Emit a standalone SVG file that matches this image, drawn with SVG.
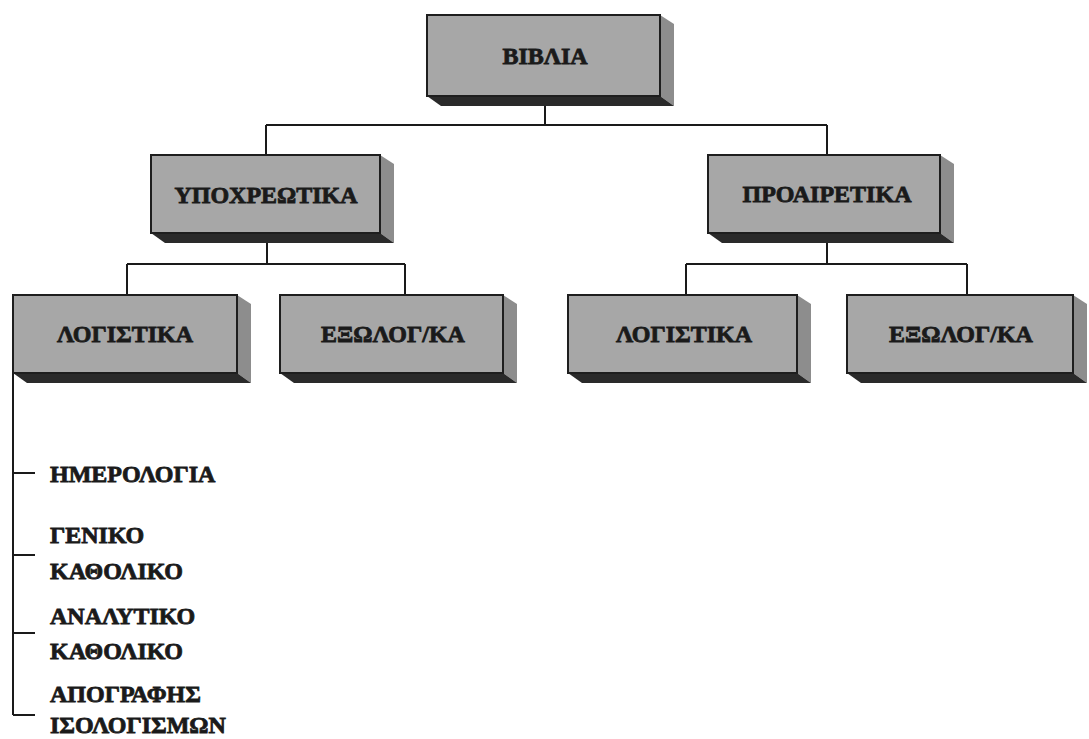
<svg xmlns="http://www.w3.org/2000/svg" width="1089" height="739" viewBox="0 0 1089 739">
<style>
.front{fill:#a7a7a7;stroke:#1e1e1e;stroke-width:2}
.side{fill:#8d8d8d;stroke:none}
.bottom{fill:#2a2a2a;stroke:none}
.lbl{font-family:"Liberation Serif","DejaVu Serif",serif;font-weight:bold;font-size:24px;fill:#1a1a1a;stroke:#1a1a1a;stroke-width:0.8}
.box .lbl{text-anchor:middle}
.conn{fill:none;stroke:#1a1a1a;stroke-width:2}
</style>
<rect width="1089" height="739" fill="#ffffff"/>
<g id="connectors">
<path class="conn" d="M545,106 V125 M266,125 H827 M266,125 V155 M827,125 V155"/>
<path class="conn" d="M267,243 V264 M127,264 H405 M127,264 V295 M405,264 V295"/>
<path class="conn" d="M827,243 V264 M686,264 H967 M686,264 V295 M967,264 V295"/>
<path class="conn" d="M13,373 V715 M13,473 H35 M13,555 H35 M13,633 H35 M13,715 H35"/>
</g>
<g id="n-biblia" class="box">
<polygon class="side" points="660,15 674,24 674,106 660,96"/>
<polygon class="bottom" points="427,96 660,96 674,106 441,106"/>
<rect class="front" x="427" y="15" width="233" height="81"/>
<text class="lbl" x="545" y="64">ΒΙΒΛΙΑ</text>
</g>
<g id="n-ypoxreotika" class="box">
<polygon class="side" points="380,155 394,164 394,243 380,233"/>
<polygon class="bottom" points="151,233 380,233 394,243 165,243"/>
<rect class="front" x="151" y="155" width="229" height="78"/>
<text class="lbl" x="266" y="203">ΥΠΟΧΡΕΩΤΙΚΑ</text>
</g>
<g id="n-proairetika" class="box">
<polygon class="side" points="940,155 954,164 954,243 940,233"/>
<polygon class="bottom" points="708,233 940,233 954,243 722,243"/>
<rect class="front" x="708" y="155" width="232" height="78"/>
<text class="lbl" x="827" y="202">ΠΡΟΑΙΡΕΤΙΚΑ</text>
</g>
<g id="n-logistika-1" class="box">
<polygon class="side" points="237,295 251,304 251,383 237,373"/>
<polygon class="bottom" points="13,373 237,373 251,383 27,383"/>
<rect class="front" x="13" y="295" width="224" height="78"/>
<text class="lbl" x="125" y="342">ΛΟΓΙΣΤΙΚΑ</text>
</g>
<g id="n-exologka-1" class="box">
<polygon class="side" points="503,295 517,304 517,383 503,373"/>
<polygon class="bottom" points="280,373 503,373 517,383 294,383"/>
<rect class="front" x="280" y="295" width="223" height="78"/>
<text class="lbl" x="393" y="342">ΕΞΩΛΟΓ/ΚΑ</text>
</g>
<g id="n-logistika-2" class="box">
<polygon class="side" points="797,295 811,304 811,383 797,373"/>
<polygon class="bottom" points="568,373 797,373 811,383 582,383"/>
<rect class="front" x="568" y="295" width="229" height="78"/>
<text class="lbl" x="684" y="342">ΛΟΓΙΣΤΙΚΑ</text>
</g>
<g id="n-exologka-2" class="box">
<polygon class="side" points="1073,295 1087,304 1087,383 1073,373"/>
<polygon class="bottom" points="847,373 1073,373 1087,383 861,383"/>
<rect class="front" x="847" y="295" width="226" height="78"/>
<text class="lbl" x="961" y="342">ΕΞΩΛΟΓ/ΚΑ</text>
</g>
<g id="n-list">
<text class="lbl" x="50" y="482">ΗΜΕΡΟΛΟΓΙΑ</text>
<text class="lbl" x="50" y="543">ΓΕΝΙΚΟ</text>
<text class="lbl" x="50" y="579">ΚΑΘΟΛΙΚΟ</text>
<text class="lbl" x="50" y="624">ΑΝΑΛΥΤΙΚΟ</text>
<text class="lbl" x="50" y="659">ΚΑΘΟΛΙΚΟ</text>
<text class="lbl" x="50" y="702">ΑΠΟΓΡΑΦΗΣ</text>
<text class="lbl" x="50" y="733">ΙΣΟΛΟΓΙΣΜΩΝ</text>
</g>
</svg>
